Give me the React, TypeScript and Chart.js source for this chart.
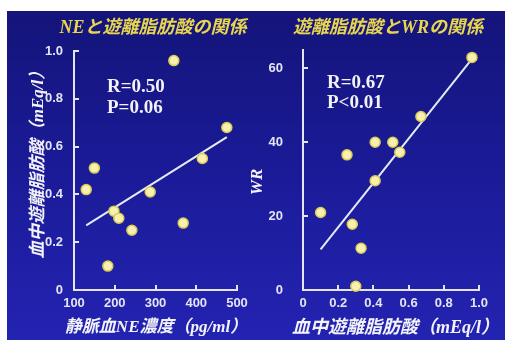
import React, { useEffect, useRef } from "react";
import { Chart, registerables } from "chart.js";

Chart.register(...registerables);

// Left panel: venous NE concentration vs free fatty acids
const neValues = [345, 475, 415, 150, 130, 287, 198, 210, 242, 368, 183];
const ffaByNe = [0.96, 0.68, 0.55, 0.51, 0.42, 0.41, 0.33, 0.3, 0.25, 0.28, 0.1];
const neFitX = [130, 475];
const neFitY = [0.27, 0.64];
const neXTicks = [100, 200, 300, 400, 500];
const neXLabels = ["100", "200", "300", "400", "500"];
const neYTicks = [0, 0.2, 0.4, 0.6, 0.8, 1.0];
const neYLabels = ["0", "0.2", "0.4", "0.6", "0.8", "1.0"];

// Right panel: free fatty acids vs WR
const ffaValues = [0.96, 0.67, 0.41, 0.51, 0.55, 0.25, 0.41, 0.1, 0.28, 0.33, 0.3];
const wrValues = [63, 47, 40, 40, 37.3, 36.6, 29.6, 21, 17.8, 11.3, 1];
const wrFitX = [0.1, 0.95];
const wrFitY = [11, 62];
const wrXTicks = [0, 0.2, 0.4, 0.6, 0.8, 1.0];
const wrXLabels = ["0", "0.2", "0.4", "0.6", "0.8", "1.0"];
const wrYTicks = [0, 20, 40, 60];
const wrYLabels = ["0", "20", "40", "60"];

const AXIS = "#e4e4f2";
const TITLE_YELLOW = "#e8d64e";
const TEXT_WHITE = "#f2f2f8";
const CJK_FONT = '"Liberation Serif", "Noto Sans CJK JP", serif';
const STAT_FONT = 'bold 19px "Liberation Serif", serif';

type Caption = {
  text: string;
  x: number;
  y: number;
  font: string;
  color: string;
  rotate?: number;
  align?: CanvasTextAlign;
};

const captionsPlugin = {
  id: "captions",
  afterDraw(chart: any, _args: any, opts: any) {
    const ctx = chart.ctx as CanvasRenderingContext2D;
    const items = (opts && opts.items) || [];
    for (let i = 0; i < items.length; i++) {
      const c = items[i] as Caption;
      ctx.save();
      ctx.translate(c.x, c.y);
      if (c.rotate) ctx.rotate(c.rotate);
      ctx.font = c.font;
      ctx.fillStyle = c.color;
      ctx.textAlign = c.align || "center";
      ctx.textBaseline = "middle";
      ctx.fillText(c.text, 0, 0);
      ctx.restore();
    }
  },
};

function axis(
  min: number,
  max: number,
  ticks: number[],
  labels: string[],
  padding: number,
  size: number,
  horizontal: boolean
) {
  return {
    type: "linear",
    min,
    max,
    afterBuildTicks: (s: any) => {
      s.ticks = ticks.map((v) => ({ value: v }));
    },
    afterFit: (s: any) => {
      if (horizontal) s.height = size;
      else s.width = size;
    },
    border: { display: true, color: AXIS, width: 2 },
    grid: {
      display: true,
      drawOnChartArea: false,
      drawTicks: true,
      tickLength: -5,
      color: AXIS,
      lineWidth: 2,
    },
    ticks: {
      color: AXIS,
      font: { family: '"Liberation Sans", Arial, sans-serif', size: 13, weight: "bold" },
      padding,
      autoSkip: false,
      maxRotation: 0,
      minRotation: 0,
      callback: (_v: any, i: number) => labels[i],
    },
  };
}

type PanelProps = {
  left: number;
  width: number;
  xs: number[];
  ys: number[];
  fitX: number[];
  fitY: number[];
  xScale: any;
  yScale: any;
  padding: { top: number; right: number; left: number; bottom: number };
  captions: Caption[];
};

function ScatterPanel(p: PanelProps) {
  const ref = useRef<HTMLCanvasElement | null>(null);
  useEffect(() => {
    if (!ref.current) return;
    const chart = new Chart(ref.current, {
      type: "scatter",
      data: {
        datasets: [
          {
            data: p.xs.map((x, i) => ({ x, y: p.ys[i] })),
            pointRadius: 5,
            pointHoverRadius: 5,
            backgroundColor: "#f6f1ae",
            borderColor: "#dccb55",
            borderWidth: 1.5,
            clip: false,
          } as any,
          {
            data: p.fitX.map((x, i) => ({ x, y: p.fitY[i] })),
            showLine: true,
            borderColor: "#e6ebf4",
            borderWidth: 2,
            pointRadius: 0,
            fill: false,
          } as any,
        ],
      },
      options: {
        responsive: false,
        maintainAspectRatio: false,
        animation: false,
        events: [],
        layout: { padding: p.padding },
        scales: { x: p.xScale, y: p.yScale },
        plugins: {
          legend: { display: false },
          title: { display: false },
          tooltip: { enabled: false },
          captions: { items: p.captions },
        } as any,
      },
      plugins: [captionsPlugin as any],
    });
    return () => chart.destroy();
  }, []);
  return (
    <canvas
      ref={ref}
      width={p.width}
      height={329}
      style={{ position: "absolute", left: p.left, top: 0, width: p.width, height: 329 }}
    />
  );
}

export default function App() {
  return (
    <div
      style={{
        position: "fixed",
        left: 0,
        top: 0,
        width: 505,
        height: 340,
        background: "#ffffff",
        overflow: "hidden",
      }}
    >
      <div
        style={{
          position: "absolute",
          left: 7,
          top: 11,
          width: 498,
          height: 329,
          background: "linear-gradient(180deg, #14147a 0%, #1a1a96 45%, #2323b2 100%)",
        }}
      >
        <ScatterPanel
          left={0}
          width={253}
          xs={neValues}
          ys={ffaByNe}
          fitX={neFitX}
          fitY={neFitY}
          xScale={axis(100, 500, neXTicks, neXLabels, 11, 50, true)}
          yScale={axis(0, 1.0, neYTicks, neYLabels, 16, 67, false)}
          padding={{ top: 40, right: 23, left: 0, bottom: 0 }}
          captions={[
            { text: "NEと遊離脂肪酸の関係", x: 146, y: 17, font: `italic bold 18px ${CJK_FONT}`, color: TITLE_YELLOW },
            { text: "R=0.50", x: 100, y: 76, font: STAT_FONT, color: TEXT_WHITE, align: "left" },
            { text: "P=0.06", x: 100, y: 97, font: STAT_FONT, color: TEXT_WHITE, align: "left" },
            {
              text: "血中遊離脂肪酸（mEq/l）",
              x: 31.5,
              y: 149.5,
              rotate: -Math.PI / 2,
              font: `italic bold 17px ${CJK_FONT}`,
              color: TEXT_WHITE,
            },
            { text: "静脈血NE濃度（pg/ml）", x: 149, y: 317, font: `italic bold 17px ${CJK_FONT}`, color: TEXT_WHITE },
          ]}
        />
        <ScatterPanel
          left={241}
          width={257}
          xs={ffaValues}
          ys={wrValues}
          fitX={wrFitX}
          fitY={wrFitY}
          xScale={axis(0, 1.0, wrXTicks, wrXLabels, 11, 50, true)}
          yScale={axis(0, 65, wrYTicks, wrYLabels, 25, 55, false)}
          padding={{ top: 39, right: 26, left: 0, bottom: 0 }}
          captions={[
            { text: "遊離脂肪酸とWRの関係", x: 140, y: 17, font: `italic bold 18px ${CJK_FONT}`, color: TITLE_YELLOW },
            { text: "R=0.67", x: 79, y: 72, font: STAT_FONT, color: TEXT_WHITE, align: "left" },
            { text: "P<0.01", x: 79, y: 92, font: STAT_FONT, color: TEXT_WHITE, align: "left" },
            {
              text: "WR",
              x: 10,
              y: 171,
              rotate: -Math.PI / 2,
              font: `italic bold 17px ${CJK_FONT}`,
              color: TEXT_WHITE,
            },
            { text: "血中遊離脂肪酸（mEq/l）", x: 147.5, y: 317, font: `italic bold 18px ${CJK_FONT}`, color: TEXT_WHITE },
          ]}
        />
      </div>
    </div>
  );
}
